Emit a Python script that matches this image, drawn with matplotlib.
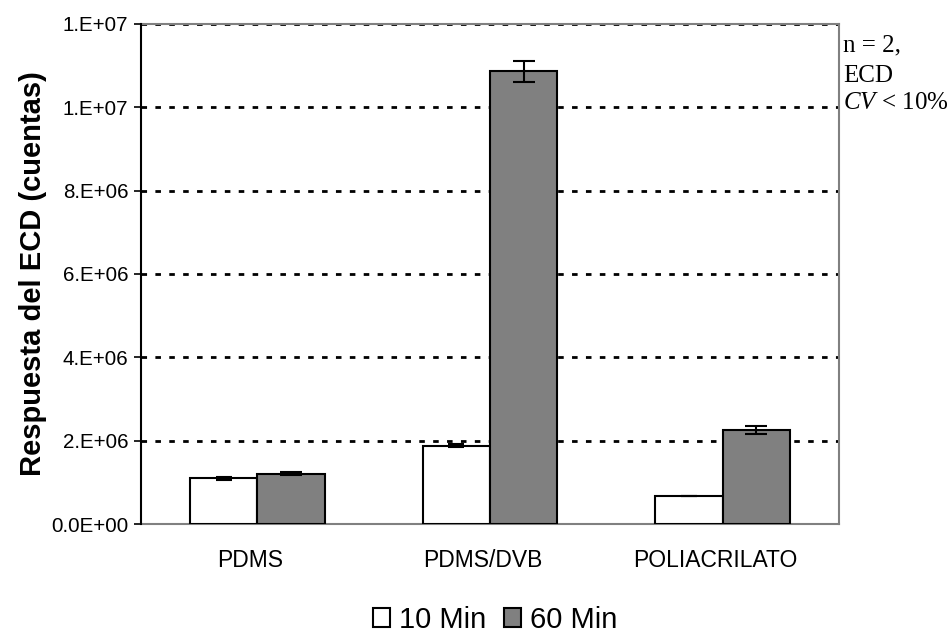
import matplotlib.pyplot as plt
import numpy as np

categorias = ['PDMS', 'PDMS/DVB', 'POLIACRILATO']
min10 = [1.10e6, 1.88e6, 0.68e6]
min60 = [1.21e6, 10.86e6, 2.26e6]
err10 = [0.04e6, 0.03e6, 0.0]
err60 = [0.04e6, 0.25e6, 0.10e6]
yticks = [0, 2e6, 4e6, 6e6, 8e6, 10e6, 12e6]
ytick_labels = ['0.0E+00', '2.E+06', '4.E+06', '6.E+06', '8.E+06', '1.E+07', '1.E+07']

plt.rcParams['font.family'] = ['Liberation Sans', 'DejaVu Sans']
plt.rcParams['mathtext.fontset'] = 'custom'
plt.rcParams['mathtext.rm'] = 'Liberation Serif'
plt.rcParams['mathtext.it'] = 'Liberation Serif:italic'

fig = plt.figure(figsize=(9.53, 6.4), dpi=100)
ax = fig.add_axes([141/953, 1 - 524/640, 698/953, 500/640])

x = np.arange(len(categorias))
w = 0.29
ax.bar(x - w/2, min10, w, color='white', edgecolor='black', linewidth=1.5,
       yerr=err10, capsize=6, error_kw=dict(elinewidth=1.5, capthick=1.5), label='10 Min', zorder=3)
ax.bar(x + w/2, min60, w, color='#808080', edgecolor='black', linewidth=1.5,
       yerr=err60, capsize=8, error_kw=dict(elinewidth=1.5, capthick=1.5), label='60 Min', zorder=3)

ax.set_xlim(-0.5, 2.5)
ax.set_ylim(0, 12e6)
ax.set_yticks(yticks)
ax.set_yticklabels(ytick_labels, fontsize=14.8)
ax.set_xticks(x - 0.03)
ax.set_xticklabels(categorias, fontsize=16.5)
ax.tick_params(axis='x', length=0, pad=18)
ax.tick_params(axis='y', length=5, width=1.2, direction='out', pad=4)

for yv in yticks:
    ax.axhline(yv, color='black', linestyle=(0, (2, 3)), linewidth=2, zorder=1)

for s in ['top', 'right', 'bottom']:
    ax.spines[s].set_color('#808080')
    ax.spines[s].set_linewidth(1.5)
    ax.spines[s].set_zorder(2)
ax.spines['left'].set_color('black')
ax.spines['left'].set_linewidth(1.5)
ax.spines['left'].set_zorder(4)

ax.set_ylabel('Respuesta del ECD (cuentas)', fontsize=21, fontweight='bold', labelpad=3)

nota = ['n = 2,', 'ECD', r'$\mathit{CV}$ < 10%']
nota_y = [45, 76, 103]
for t, yy in zip(nota, nota_y):
    fig.text(843/953, 1 - yy/640, t, fontsize=18, family='Liberation Serif',
             va='center', ha='left')

leg = fig.legend(loc='center', bbox_to_anchor=(495/953, 1 - 620/640), ncol=2, frameon=False,
                 fontsize=21, handlelength=0.6, handleheight=0.6, handletextpad=0.3,
                 columnspacing=0.6)

fig.savefig('out.png', dpi=100)
